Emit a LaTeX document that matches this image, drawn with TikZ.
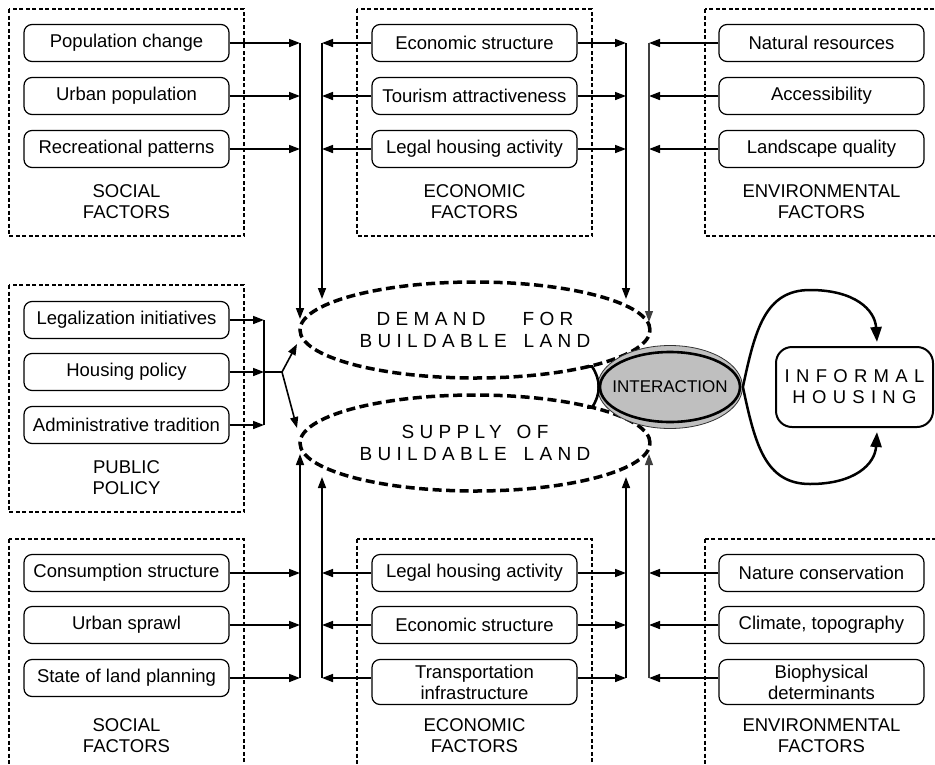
\documentclass[tikz,border=0pt]{standalone}
\usepackage{fontspec}
\setmainfont{Liberation Sans}
\usetikzlibrary{arrows.meta,shapes.geometric}
\newcommand\boxfont{\fontsize{18.5}{21}\selectfont}
\newcommand\widefont{\fontsize{19}{22}\selectfont\addfontfeature{LetterSpace=28}}
\begin{document}
\begin{tikzpicture}[x=1pt,y=-1pt,
  fbox/.style={draw, rounded corners=8pt, minimum width=205pt, minimum height=37pt, inner sep=0pt, line width=1.2pt, align=center, font=\boxfont},
  tbox/.style={fbox, minimum height=45pt},
  grp/.style={draw, line width=1.5pt, dash pattern=on 4pt off 2.5pt},
  lbl/.style={align=center, font=\boxfont, inner sep=0pt},
  arr/.style={line width=1.6pt, -{Triangle[length=11pt,width=8pt]}},
  ln/.style={line width=1.6pt},
  thinarr/.style={line width=1.1pt, black!75, -{Triangle[length=11pt,width=8pt]}},
  ell/.style={ellipse, draw, line width=3.5pt, dash pattern=on 9pt off 4.5pt, minimum width=350pt, minimum height=96pt, inner sep=0pt, align=center, font=\widefont},
  bigarr/.style={line width=2.5pt, -{Triangle[length=15pt,width=11pt]}}
]
\useasboundingbox (0,0) rectangle (935,764);
\clip (0,0) rectangle (935,764);

% group frames
\draw[grp] (9,9) rectangle (244,236);
\draw[grp] (357,9) rectangle (592,236);
\draw[grp] (705,9) rectangle (950,236);
\draw[grp] (9,285) rectangle (244,512);
\draw[grp] (9,539) rectangle (244,780);
\draw[grp] (357,539) rectangle (592,780);
\draw[grp] (705,539) rectangle (950,780);

% top boxes
\node[fbox] (s1) at (126.5,43) {Population change};
\node[fbox] (s2) at (126.5,96) {Urban population};
\node[fbox] (s3) at (126.5,149) {Recreational patterns};
\node[fbox] (e1) at (474.5,43) {Economic structure};
\node[fbox] (e2) at (474.5,96) {Tourism attractiveness};
\node[fbox] (e3) at (474.5,149) {Legal housing activity};
\node[fbox] (n1) at (821.5,43) {Natural resources};
\node[fbox] (n2) at (821.5,96) {Accessibility};
\node[fbox] (n3) at (821.5,149) {Landscape quality};
\node[lbl] (ls1) at (126.5,202) {SOCIAL\\FACTORS};
\node[lbl] (le1) at (474.5,202) {ECONOMIC\\FACTORS};
\node[lbl] (ln1) at (821.5,202) {ENVIRONMENTAL\\FACTORS};

% public policy
\node[fbox] (p1) at (126.5,320) {Legalization initiatives};
\node[fbox] (p2) at (126.5,372) {Housing policy};
\node[fbox] (p3) at (126.5,425) {Administrative tradition};
\node[lbl] (lp) at (126.5,477.5) {PUBLIC\\POLICY};

% bottom boxes
\node[fbox] (s4) at (126.5,573) {Consumption structure};
\node[fbox] (s5) at (126.5,625) {Urban sprawl};
\node[fbox] (s6) at (126.5,678) {State of land planning};
\node[fbox] (e4) at (474.5,573) {Legal housing activity};
\node[fbox] (e5) at (474.5,625) {Economic structure};
\node[tbox] (e6) at (474.5,682) {Transportation\\infrastructure};
\node[fbox] (n4) at (821.5,573) {Nature conservation};
\node[fbox] (n5) at (821.5,625) {Climate, topography};
\node[tbox] (n6) at (821.5,682) {Biophysical\\determinants};
\node[lbl] (ls2) at (126.5,736) {SOCIAL\\FACTORS};
\node[lbl] (le2) at (474.5,736) {ECONOMIC\\FACTORS};
\node[lbl] (ln2) at (821.5,736) {ENVIRONMENTAL\\FACTORS};

% central ellipses
\node[ell] (dem) at (475,330) {DEMAND\hspace{37pt}FOR\\BUILDABLE\hspace{17pt}LAND};
\node[ell] (sup) at (475,443) {SUPPLY\hspace{15pt}OF\\BUILDABLE\hspace{17pt}LAND};

% interaction
\node[ellipse, draw=black!80, line width=0.8pt, fill=black!25, minimum width=145pt, minimum height=83pt, inner sep=0pt] (int) at (670,387) {};
\draw[line width=2.6pt] (int.center) ellipse [x radius=70, y radius=35];
\node[font=\fontsize{17}{20}\selectfont, inner sep=0pt] (intl) at (670,387) {INTERACTION};
\coordinate (bt) at (592,366.5);
\coordinate (bb) at (592,407.5);
\draw[line width=2.6pt] ([xshift=-5pt]bt) -- (bt) .. controls (601,380) and (601,394) .. (bb) -- ([xshift=-5pt]bb);

% informal housing
\node[draw, rounded corners=16pt, line width=2pt, minimum width=157pt, minimum height=80pt, align=center, font=\fontsize{18.5}{21}\selectfont\addfontfeature{LetterSpace=34}] (inf) at (854.5,387) {INFORMAL\\HOUSING};
\coordinate (it) at (877,342);
\coordinate (ib) at (877,432);
\draw[bigarr] (int.east) .. controls (755,330) and (765,290) .. (810,290) .. controls (855,290) and (875,310) .. (it);
\draw[bigarr] (int.east) .. controls (755,444) and (765,484) .. (810,484) .. controls (855,484) and (875,464) .. (ib);

% collector lines
\coordinate (L1) at (300,0);
\coordinate (L2) at (322,0);
\coordinate (R1) at (626,0);
\coordinate (R2) at (649,0);
\coordinate (dL1) at (300,319);
\coordinate (dL2) at (322,299);
\coordinate (dR1) at (626,299);
\coordinate (dR2) at (649,322);
\coordinate (uL1) at (300,454);
\coordinate (uL2) at (322,477);
\coordinate (uR1) at (626,477);
\coordinate (uR2) at (649,454);

\foreach \b in {s1,s2,s3,s4,s5,s6} \draw[arr] (\b.east) -- (\b.east -| L1);
\foreach \b in {e1,e2,e3,e4,e5} {
  \draw[arr] (\b.west) -- (\b.west -| L2);
  \draw[arr] (\b.east) -- (\b.east -| R1);
}
\draw[arr] ([yshift=4pt]e6.west) -- ([yshift=4pt]e6.west -| L2);
\draw[arr] ([yshift=4pt]e6.east) -- ([yshift=4pt]e6.east -| R1);
\foreach \b in {n1,n2,n3,n4,n5} \draw[arr] (\b.west) -- (\b.west -| R2);
\draw[arr] ([yshift=4pt]n6.west) -- ([yshift=4pt]n6.west -| R2);

\draw[arr] (s1.east -| L1) -- (dL1);
\draw[arr] (e1.west -| L2) -- (dL2);
\draw[arr] (e1.east -| R1) -- (dR1);
\draw[thinarr] (n1.west -| R2) -- (dR2);
\draw[arr] (s6.east -| L1) -- (uL1);
\draw[arr] ([yshift=4pt]e6.west -| L2) -- (uL2);
\draw[arr] ([yshift=4pt]e6.east -| R1) -- (uR1);
\draw[thinarr] ([yshift=4pt]n6.west -| R2) -- (uR2);

% public policy connectors
\coordinate (PJ) at (264,0);
\coordinate (PK) at (282,372);
\coordinate (pd) at (297,344);
\coordinate (ps) at (297,428);
\foreach \b in {p1,p2,p3} \draw[arr] (\b.east) -- (\b.east -| PJ);
\draw[ln] (p1.east -| PJ) -- (p3.east -| PJ);
\draw[ln] (p2.east -| PJ) -- (PK);
\draw[arr] (PK) -- (pd);
\draw[arr] (PK) -- (ps);
\end{tikzpicture}
\end{document}
